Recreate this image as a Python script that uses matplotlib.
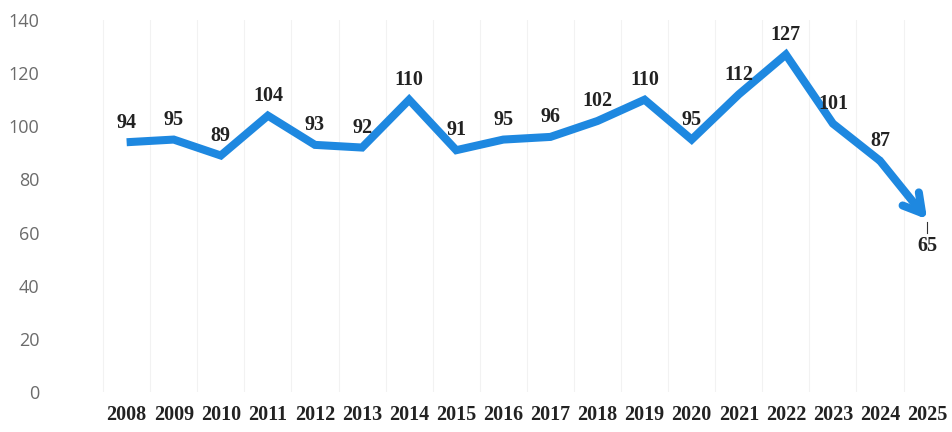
import matplotlib
matplotlib.use("Agg")
import matplotlib.pyplot as plt

years = [str(y) for y in range(2008, 2026)]
values = [94, 95, 89, 104, 93, 92, 110, 91, 95, 96, 102, 110, 95, 112, 127, 101, 87, 65]
y_ticks = [0, 20, 40, 60, 80, 100, 120, 140]

LINE = "#1E88E0"
SERIF = ["Liberation Serif", "DejaVu Serif"]

fig = plt.figure(figsize=(9.52, 4.32), dpi=100)
ax = fig.add_axes([56 / 952, 40 / 432, 889 / 952, 372 / 432])

x = list(range(len(years)))
n = len(years)

# main line up to the second-to-last point, arrow for the last segment
ax.plot(x[:-1], values[:-1], color=LINE, lw=5.8, solid_joinstyle="miter",
        solid_capstyle="butt", zorder=3)
ax.annotate("", xy=(x[-1], values[-1]), xytext=(x[-2], values[-2]),
            arrowprops=dict(arrowstyle="->,head_length=1.3,head_width=0.75",
                            color=LINE, lw=5.8, shrinkA=0, shrinkB=0),
            zorder=3)

for i, v in enumerate(values):
    if i == n - 1:
        ax.plot([x[i], x[i]], [v - 1, v - 5], color="#333333", lw=0.8, zorder=4)
        ax.annotate(str(v), (x[i], v), xytext=(0, -12), textcoords="offset points",
                    ha="center", va="top", fontsize=14.5, fontweight="bold",
                    family=SERIF, color="#222222")
    else:
        ax.annotate(str(v), (x[i], v), xytext=(0, 7), textcoords="offset points",
                    ha="center", va="bottom", fontsize=14.5, fontweight="bold",
                    family=SERIF, color="#222222")

ax.set_xlim(-1.5, n - 1 + 0.38)
ax.set_ylim(0, 140)
ax.set_yticks(y_ticks)
ax.set_yticklabels([str(t) for t in y_ticks], color="#6b6b6b", fontsize=13,
                   family=["Open Sans", "DejaVu Sans"])
ax.set_xticks(x)
ax.set_xticklabels(years, fontsize=14.5, fontweight="bold", family=SERIF,
                   color="#222222")
ax.tick_params(axis="y", length=0, pad=12)
ax.tick_params(axis="x", length=0, pad=9)

# faint vertical grid at category boundaries
for b in range(-1, n):
    ax.axvline(b + 0.5, color="#F2F2F2", lw=0.8, zorder=0)

for s in ax.spines.values():
    s.set_visible(False)

fig.savefig("out.png", dpi=100)
